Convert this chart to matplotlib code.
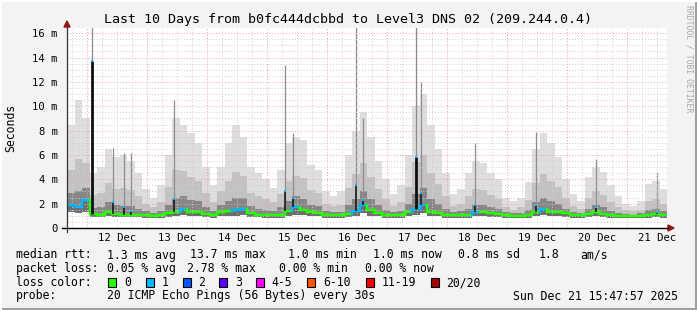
"""
SmokePing style latency chart: last 10 days, b0fc444dcbbd -> Level3 DNS 02.
"""

import matplotlib
matplotlib.use("Agg")
import matplotlib.pyplot as plt
import numpy as np
from matplotlib.collections import LineCollection
from matplotlib.lines import Line2D
from matplotlib.patches import Polygon, Rectangle

W, H = 697, 310
FONT = "DejaVu Sans Mono"

# ---- data (3 hour slots, hour 0 = 11 Dec 16:00) ----
slot_hours = np.arange(80) * 3.0

rtt_median = [
    1.85, 1.7, 2.3, 1.15, 1.1, 1.35, 1.15, 1.1, 1.1, 1.1,
    1.05, 1.0, 1.05, 1.2, 1.35, 1.6, 1.35, 1.3, 1.15, 1.05,
    1.3, 1.4, 1.45, 1.6, 1.2, 1.1, 1.1, 1.05, 1.1, 1.4,
    1.75, 1.5, 1.3, 1.25, 1.1, 1.05, 1.05, 1.15, 1.4, 1.9,
    1.45, 1.25, 1.1, 1.05, 1.05, 1.35, 1.55, 1.9, 1.3, 1.25,
    1.1, 1.05, 1.05, 1.1, 1.3, 1.3, 1.2, 1.15, 1.05, 1.0,
    1.0, 1.05, 1.35, 1.55, 1.35, 1.35, 1.2, 1.05, 1.05, 1.15,
    1.3, 1.15, 1.05, 1.0, 1.0, 1.0, 1.0, 1.1, 1.15, 1.05,
]
rtt_max = [
    8.5, 10.5, 9.0, 4.5, 5.0, 6.5, 5.8, 6.0, 5.5, 4.5,
    3.2, 2.5, 3.5, 6.0, 9.0, 8.5, 7.8, 7.0, 5.0, 3.5,
    5.0, 7.0, 8.5, 7.5, 5.0, 4.5, 4.0, 3.3, 4.8, 7.0,
    7.5, 7.2, 5.2, 4.8, 3.0, 2.6, 3.0, 6.0, 8.0, 9.5,
    7.5, 5.5, 4.0, 2.8, 3.5, 6.0, 10.0, 11.0, 8.5, 6.5,
    4.5, 2.8, 3.2, 4.5, 5.5, 5.3, 4.5, 4.0, 2.5, 2.2,
    2.5, 3.8, 6.5, 7.8, 7.0, 5.8, 4.0, 2.8, 2.2, 4.2,
    5.0, 4.6, 3.5, 2.6, 2.0, 1.8, 2.2, 3.6, 3.9, 3.2,
]
rtt_p80 = [
    4.8, 5.7, 5.3, 2.7, 2.9, 3.7, 3.2, 3.3, 3.1, 2.6,
    2.0, 1.7, 2.1, 3.4, 4.8, 4.7, 4.2, 3.9, 2.9, 2.1,
    3.0, 3.9, 4.6, 4.3, 2.9, 2.6, 2.4, 2.1, 2.8, 3.9,
    4.3, 4.1, 3.1, 2.9, 2.0, 1.8, 1.9, 3.3, 4.4, 5.3,
    4.2, 3.2, 2.4, 1.8, 2.1, 3.4, 5.4, 6.0, 4.5, 3.6,
    2.6, 1.8, 2.0, 2.6, 3.2, 3.1, 2.7, 2.4, 1.7, 1.5,
    1.7, 2.3, 3.7, 4.4, 3.9, 3.4, 2.5, 1.8, 1.6, 2.5,
    3.0, 2.7, 2.1, 1.7, 1.5, 1.4, 1.5, 2.2, 2.4, 2.0,
]
rtt_p60 = [
    2.85, 3.0, 3.3, 1.65, 1.7, 2.1, 1.85, 1.8, 1.8, 1.6,
    1.4, 1.2, 1.4, 1.9, 2.5, 2.6, 2.3, 2.2, 1.7, 1.4,
    1.9, 2.2, 2.5, 2.5, 1.8, 1.6, 1.5, 1.4, 1.7, 2.2,
    2.6, 2.4, 1.9, 1.8, 1.4, 1.3, 1.3, 1.9, 2.4, 3.0,
    2.4, 1.9, 1.5, 1.3, 1.4, 2.0, 2.8, 3.3, 2.4, 2.0,
    1.6, 1.3, 1.4, 1.6, 1.9, 1.9, 1.7, 1.6, 1.3, 1.2,
    1.2, 1.5, 2.1, 2.5, 2.2, 2.0, 1.6, 1.3, 1.2, 1.6,
    1.9, 1.7, 1.4, 1.2, 1.15, 1.1, 1.2, 1.5, 1.6, 1.4,
]
rtt_min = [
    1.3, 1.2, 1.3, 0.9, 0.9, 1.0, 0.9, 0.9, 0.9, 0.9,
    0.85, 0.8, 0.85, 0.9, 1.0, 1.1, 1.0, 0.95, 0.9, 0.85,
    0.95, 1.0, 1.0, 1.1, 0.9, 0.9, 0.85, 0.85, 0.85, 1.0,
    1.1, 1.05, 0.95, 0.95, 0.85, 0.85, 0.85, 0.9, 1.0, 1.2,
    1.0, 0.95, 0.85, 0.85, 0.85, 0.95, 1.05, 1.2, 1.0, 0.95,
    0.85, 0.85, 0.85, 0.85, 0.95, 0.95, 0.9, 0.9, 0.85, 0.8,
    0.8, 0.85, 0.95, 1.05, 1.0, 1.0, 0.9, 0.85, 0.85, 0.9,
    0.95, 0.9, 0.85, 0.8, 0.8, 0.8, 0.8, 0.85, 0.9, 0.85,
]
loss_count = [
    1, 1, 1, 0, 0, 0, 0, 0, 0, 0,
    0, 0, 0, 0, 0, 1, 0, 0, 0, 0,
    0, 0, 1, 1, 0, 0, 0, 0, 0, 0,
    1, 0, 0, 0, 0, 0, 0, 0, 1, 1,
    0, 0, 0, 0, 0, 0, 1, 1, 0, 0,
    0, 0, 0, 0, 1, 0, 0, 0, 0, 0,
    0, 0, 0, 1, 0, 0, 0, 0, 0, 0,
    0, 0, 0, 0, 0, 0, 0, 0, 0, 0,
]

# short single-sample spikes: time (h), highest ping (ms), median of the sample (ms)
spike_hours = [10.0, 18.4, 22.8, 25.6, 42.8, 87.2, 90.4, 115.6, 118.4,
               139.6, 141.6, 163.2, 187.6, 211.6, 236.0]
spike_max = [17.0, 6.6, 6.2, 6.2, 10.5, 13.4, 7.8, 17.0, 9.0,
             17.0, 12.0, 7.0, 7.9, 5.7, 4.6]
spike_median = [13.7, 2.1, 1.7, 1.4, 2.4, 3.0, 2.5, 3.5, 2.3,
                5.8, 2.9, 1.9, 1.9, 1.7, 1.3]

day_labels = ["12 Dec", "13 Dec", "14 Dec", "15 Dec", "16 Dec",
              "17 Dec", "18 Dec", "19 Dec", "20 Dec", "21 Dec"]
y_ticks = [0, 2, 4, 6, 8, 10, 12, 14, 16]
y_tick_labels = ["0", "2 m", "4 m", "6 m", "8 m", "10 m", "12 m", "14 m", "16 m"]

loss_colors = {0: "#26ff00", 1: "#00b8ff", 2: "#0059ff", 3: "#5e00ff",
               4: "#ff00ff", 6: "#ff5500", 11: "#ff0000", 20: "#a10000"}
loss_legend = [("0", 0), ("1", 1), ("2", 2), ("3", 3), ("4-5", 4),
               ("6-10", 6), ("11-19", 11), ("20/20", 20)]


def fx(x):
    return x / W


def fy(y):
    return 1 - y / H


def put(x, y, s, **kw):
    kw.setdefault("fontsize", 8.3)
    kw.setdefault("family", FONT)
    kw.setdefault("color", "#000000")
    kw.setdefault("va", "baseline")
    fig.text(fx(x), fy(y), s, **kw)


fig = plt.figure(figsize=(W / 100, H / 100), dpi=100, facecolor="#f3f3f3")
ax = fig.add_axes([fx(67), fy(228), 600 / W, 200 / H])
ax.set_facecolor("#ffffff")
ax.set_xlim(0, 240)
ax.set_ylim(0, 16.43)
for s in ax.spines.values():
    s.set_visible(False)

# ---- smoke ----
edges = np.append(slot_hours, 240.0)


def ext(v):
    return np.append(v, v[-1])


med = np.array(rtt_median)
layers = [
    (rtt_p80, rtt_max, "#dedede"),
    (rtt_p60, rtt_p80, "#c2c2c2"),
    (rtt_median, rtt_p60, "#878787"),
    (rtt_min, rtt_median, "#6e6e6e"),
]
for lo, hi, col in layers:
    ax.fill_between(edges, ext(np.array(lo)), ext(np.array(hi)), step="post",
                    color=col, lw=0, zorder=1)

# spikes
for h, mx, md in zip(spike_hours, spike_max, spike_median):
    base = rtt_median[int(h // 3)]
    ax.vlines(h, base, mx, color="#8c8c8c", lw=0.9, zorder=1.5)
    ax.vlines(h, base, md, color="#101010", lw=2.0 if md > 5 else 1.1, zorder=4)
    ax.plot([h], [md], marker="s", ms=2, color="#00b8ff", mew=0, zorder=5)

# ---- grid (drawn over the smoke like rrdtool) ----
dot = (0, (1, 2))
for v in np.arange(0.5, 16.43, 0.5):
    major = abs(v % 2) < 1e-9
    ax.axhline(v, color="#f2a0a0" if major else "#cfcfcf", lw=0.7,
               ls=dot, zorder=2.5)
for h in np.arange(2, 240, 6):
    major = (h - 8) % 24 == 0
    ax.axvline(h, color="#f2a0a0" if major else "#cfcfcf", lw=0.7,
               ls=dot, zorder=2.5)

# ---- median line coloured by loss ----
segs, cols = [], []
for i in range(80):
    t0, t1 = slot_hours[i], slot_hours[i] + 3
    c = loss_colors[loss_count[i]]
    segs.append([(t0, med[i]), (t1, med[i])])
    cols.append(c)
    if i < 79:
        segs.append([(t1, med[i]), (t1, med[i + 1])])
        cols.append(loss_colors[loss_count[i + 1]])
ax.add_collection(LineCollection(segs, colors=cols, lw=1.7, zorder=3,
                                 capstyle="projecting"))

# ---- ticks ----
ax.set_xticks([20 + 24 * i for i in range(10)])
ax.set_xticklabels(day_labels, family=FONT, fontsize=7.6)
ax.set_yticks(y_ticks)
ax.set_yticklabels(y_tick_labels, family=FONT, fontsize=7.6)
ax.tick_params(axis="x", length=0, pad=3.5)
ax.tick_params(axis="y", length=0, pad=6.5)

# axes lines and arrows
fig.add_artist(Line2D([fx(62), fx(668)], [fy(228), fy(228)], color="#000000",
                      lw=1.0, transform=fig.transFigure))
fig.add_artist(Line2D([fx(67), fx(67)], [fy(232), fy(27)], color="#333333",
                      lw=0.9, transform=fig.transFigure))
fig.add_artist(Polygon([(fx(64), fy(27)), (fx(70), fy(27)), (fx(67), fy(21))],
                       closed=True, color="#931414", transform=fig.transFigure))
fig.add_artist(Polygon([(fx(668), fy(225)), (fx(668), fy(231)), (fx(674), fy(228))],
                       closed=True, color="#931414", transform=fig.transFigure))

# ---- titles ----
fig.text(0.5, fy(19), "Last 10 Days from b0fc444dcbbd to Level3 DNS 02 (209.244.0.4)",
         ha="center", va="center", family=FONT, fontsize=9.6)
fig.text(fx(11), fy(128), "Seconds", rotation=90, ha="center", va="center",
         family=FONT, fontsize=8.3)
fig.text(fx(689), fy(59), "RRDTOOL / TOBI OETIKER", rotation=270, ha="center",
         va="center", family=FONT, fontsize=5.9, color="#a8a8a8")

# ---- legend ----
put(16, 258.5, "median rtt:")
put(107.3, 258.5, "1.3 ms avg")
put(190, 258.5, "13.7 ms max")
put(288.3, 258.5, "1.0 ms min")
put(372.7, 258.5, "1.0 ms now")
put(458.3, 258.5, "0.8 ms sd")
put(538.3, 258.5, "1.8")
put(580, 258.5, "am/s")

put(16, 272.3, "packet loss:")
put(107.3, 272.3, "0.05 % avg")
put(187, 272.3, "2.78 % max")
put(279.3, 272.3, "0.00 % min")
put(365, 272.3, "0.00 % now")

put(16, 286, "loss color:")
sq_x = [108.3, 145.7, 182.7, 219.3, 256, 307.3, 365.7, 431]
for (lab, key), x in zip(loss_legend, sq_x):
    fig.add_artist(Rectangle((fx(x), fy(286.5)), 8 / W, 8.5 / H,
                             facecolor=loss_colors[key], edgecolor="#000000",
                             lw=0.8, transform=fig.transFigure))
    put(x + 15.5, 286, lab)

put(16, 299.5, "probe:")
put(107.3, 299.5, "20 ICMP Echo Pings (56 Bytes) every 30s")
put(513.3, 299.5, "Sun Dec 21 15:47:57 2025")

# frame
fig.add_artist(Line2D([0, 1], [fy(308.5), fy(308.5)], color="#9f9f9f", lw=2.2,
                      transform=fig.transFigure))
fig.add_artist(Line2D([fx(695.5), fx(695.5)], [0, 1], color="#9f9f9f", lw=2.2,
                      transform=fig.transFigure))
fig.add_artist(Line2D([0, 1], [fy(0.8), fy(0.8)], color="#ffffff", lw=1.5,
                      transform=fig.transFigure))
fig.add_artist(Line2D([fx(0.8), fx(0.8)], [0, 1], color="#ffffff", lw=1.5,
                      transform=fig.transFigure))

fig.savefig("out.png", dpi=100, facecolor=fig.get_facecolor())
